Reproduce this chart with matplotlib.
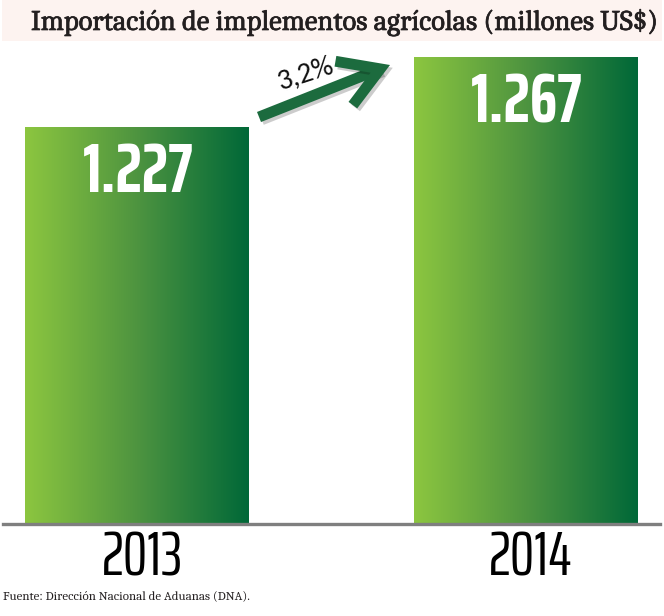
import matplotlib
matplotlib.use("Agg")
import matplotlib.pyplot as plt
import numpy as np
from matplotlib.colors import LinearSegmentedColormap
from matplotlib.patches import Rectangle
import matplotlib.patheffects as pe

# data
years = ["2013", "2014"]
valores = [1227, 1267]
etiquetas = ["1.227", "1.267"]
variacion = "3,2%"
titulo = "Importación de implementos agrícolas (millones US$)"
fuente = "Fuente: Dirección Nacional de Aduanas (DNA)."

verde = LinearSegmentedColormap.from_list("verde", ["#8cc63f", "#4e9440", "#006838"])

fig = plt.figure(figsize=(6.64, 6.16), dpi=100)
W, H = 664, 616

# banda del titulo
fig.patches.append(Rectangle((2 / W, 1 - 41 / H), 660 / W, 41 / H, transform=fig.transFigure,
                             facecolor="#fdf3f0", edgecolor="none", zorder=0))
fig.text(31 / W, 1 - 30 / H, titulo, fontsize=20.5, family=["Caladea", "DejaVu Serif"],
         color="#231f20", va="baseline", ha="left",
         path_effects=[pe.withStroke(linewidth=0.5, foreground="#231f20")])

ax = fig.add_axes([3 / W, 92 / H, 657 / W, (524 - 45) / H])
ax.axis("off")

x = np.arange(len(valores))
bars = ax.bar(x, valores, width=0.575, color="none", edgecolor="none")
grad = np.linspace(0, 1, 256).reshape(1, -1)
for b in bars:
    x0, w, h = b.get_x(), b.get_width(), b.get_height()
    im = ax.imshow(grad, cmap=verde, aspect="auto", extent=[x0, x0 + w, 1000, h],
                   interpolation="bilinear", zorder=2)
    im.set_clip_path(b)

ax.set_xlim(-0.345, 1.346)
ax.set_ylim(1000, 1273.9)

# linea base
ax.axhline(1000, color="#7f7f7f", lw=2.4, zorder=3, clip_on=False)

for i, v in enumerate(valores):
    ax.annotate(etiquetas[i], xy=(i, v), xytext=(1, -65), textcoords="offset pixels",
                ha="center", va="baseline", color="white", fontsize=50,
                family=["Saira ExtraCondensed", "DejaVu Sans"], fontweight="bold", zorder=4)
    ax.annotate(years[i], xy=(i, 1000), xytext=(5, -51), textcoords="offset pixels",
                ha="center", va="baseline", color="black", fontsize=44,
                family=["Saira ExtraCondensed", "DejaVu Sans"], fontweight="normal",
                annotation_clip=False)

# flecha de variacion
sombra = [pe.SimpleLineShadow(offset=(2, -2), shadow_color="black", alpha=0.2), pe.Normal()]
ax.annotate("", xy=(390, H - 65), xycoords="figure pixels",
            xytext=(259, H - 117), textcoords="figure pixels",
            arrowprops=dict(arrowstyle="->,head_length=1.4,head_width=0.85", lw=7.8,
                            color="#1c6b3e", mutation_scale=20, shrinkA=0, shrinkB=0,
                            joinstyle="miter", capstyle="butt", path_effects=sombra))
fig.text(306 / W, 1 - 73 / H, variacion, fontsize=21, family=["Carlito", "DejaVu Sans"],
         rotation=18, ha="center", va="center", color="#111111")

fig.text(3 / W, 1 - 599 / H, fuente, fontsize=9.3, family=["Caladea", "DejaVu Serif"],
         color="#231f20", va="baseline", ha="left")

fig.savefig("out.png", dpi=100)
